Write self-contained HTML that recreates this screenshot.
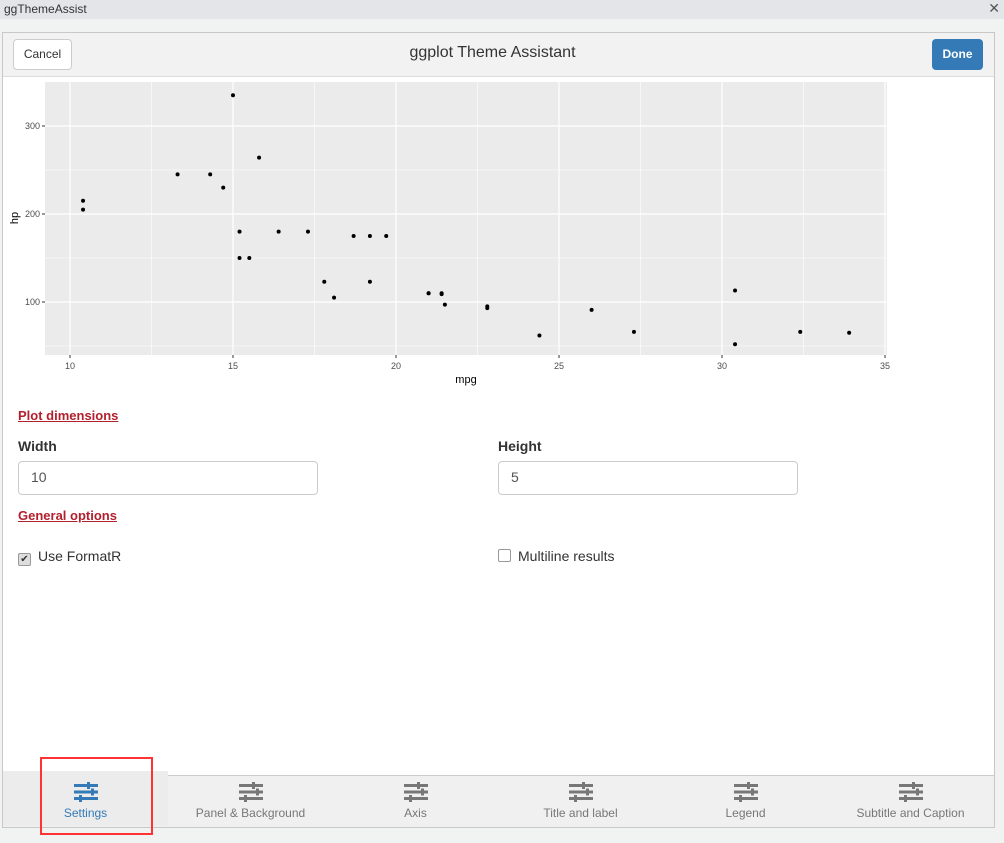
<!DOCTYPE html>
<html><head><meta charset="utf-8"><style>
body{margin:0;width:1004px;height:843px;background:#f1f2f2;font-family:"Liberation Sans",sans-serif;position:relative;overflow:hidden}
.abs{position:absolute}
.lbl{position:absolute;color:#333;font-weight:bold;font-size:14px}
.sec{position:absolute;color:#b2202e;font-weight:bold;font-size:13px;text-decoration:underline;left:18px}
.inp{position:absolute;height:31px;border:1px solid #ccc;border-radius:4px;background:#fff;box-sizing:border-box;font-size:14px;color:#555;padding:7px 12px;width:300px}
.tab{position:absolute;top:776px;width:165px;height:50px;text-align:center;font-size:12px;color:#777}
.tab svg{display:block;margin:6px auto 4px}
</style></head><body>
<div class="abs" style="left:0;top:0;width:1004px;height:19px;background:#e3e5e8;font-size:12px;color:#333"><span style="position:absolute;left:4px;top:2px">ggThemeAssist</span><span style="position:absolute;right:4px;top:0px;font-size:14px;color:#555">✕</span></div>
<div class="abs" style="left:2px;top:32px;width:991px;height:794px;background:#fff;border:1px solid #c8c8c8">
 <div class="abs" style="left:0;top:0;width:991px;height:43px;background:#f2f2f2;border-bottom:1px solid #ddd"></div>
 <div class="abs" style="left:10px;top:6px;width:57px;height:29px;border:1px solid #ccc;border-radius:4px;background:#fff;font-size:12px;color:#333;text-align:center;line-height:29px">Cancel</div>
 <div class="abs" style="left:0;top:11px;width:979px;text-align:center;font-size:16px;color:#333">ggplot Theme Assistant</div>
 <div class="abs" style="left:929px;top:6px;width:51px;height:31px;border-radius:4px;background:#337ab7;font-size:12px;font-weight:bold;color:#fff;text-align:center;line-height:31px">Done</div>
</div>
<svg class="abs" style="left:0;top:0" width="1004" height="400" id="chart"></svg>
<div class="sec" style="top:408px">Plot dimensions</div>
<div class="lbl" style="left:18px;top:438px">Width</div>
<div class="inp" style="left:18px;top:461px;height:34px">10</div>
<div class="lbl" style="left:498px;top:438px">Height</div>
<div class="inp" style="left:498px;top:461px;height:34px">5</div>
<div class="sec" style="top:508px">General options</div>
<div class="abs" style="left:18px;top:548px;font-size:14px;color:#333"><span style="display:inline-block;width:11px;height:11px;border:1px solid #999;border-radius:2px;background:#ddd;font-size:10px;line-height:11px;text-align:center;vertical-align:-1px;margin-right:7px">✔</span>Use FormatR</div>
<div class="abs" style="left:498px;top:548px;font-size:14px;color:#333"><span style="display:inline-block;width:11px;height:11px;border:1px solid #999;border-radius:2px;background:#fff;vertical-align:-1px;margin-right:7px"></span>Multiline results</div>
<div class="abs" style="left:3px;top:775px;width:991px;height:51px;background:#f0f0f0;border-top:1px solid #ccc"></div>
<div class="abs" style="left:3px;top:771px;width:165px;height:55px;background:#ececec"></div>
<div id="tabs"></div>
<div class="abs" style="left:40px;top:757px;width:109px;height:74px;border:2px solid #f33"></div>
<script>
const mpg=[21.0,21.0,22.8,21.4,18.7,18.1,14.3,24.4,22.8,19.2,17.8,16.4,17.3,15.2,10.4,10.4,14.7,32.4,30.4,33.9,21.5,15.5,15.2,13.3,19.2,27.3,26.0,30.4,15.8,19.7,15.0,21.4];
const hp=[110,110,93,110,175,105,245,62,95,123,123,180,180,180,205,215,230,66,52,65,97,150,150,245,175,66,91,113,264,175,335,109];
const xTicks=[10,15,20,25,30,35];
const yTicks=[100,200,300];
const xMinor=[12.5,17.5,22.5,27.5,32.5];
const yMinor=[50,150,250];
const X=v=>70+(v-10)*32.6;
const Y=v=>302-(v-100)*0.88;
const NS='http://www.w3.org/2000/svg';
const svg=document.getElementById('chart');
function mk(t,a,p){const e=document.createElementNS(NS,t);for(const k in a)e.setAttribute(k,a[k]);(p||svg).appendChild(e);return e;}
const panel=mk('rect',{x:45,y:82,width:842,height:273,fill:'#ebebeb'});


xMinor.forEach(v=>mk('line',{x1:X(v),x2:X(v),y1:82,y2:355,stroke:'#fff','stroke-width':0.6}));
yMinor.forEach(v=>mk('line',{x1:45,x2:887,y1:Y(v),y2:Y(v),stroke:'#fff','stroke-width':0.6}));
xTicks.forEach(v=>{mk('line',{x1:X(v),x2:X(v),y1:82,y2:355,stroke:'#fff','stroke-width':1.2});mk('line',{x1:X(v),x2:X(v),y1:355,y2:358,stroke:'#333'});
 const t=mk('text',{x:X(v),y:369,'text-anchor':'middle','font-size':9,fill:'#4d4d4d'});t.textContent=v;
 
 });
yTicks.forEach(v=>{mk('line',{x1:45,x2:887,y1:Y(v),y2:Y(v),stroke:'#fff','stroke-width':1.2});mk('line',{x1:42,x2:45,y1:Y(v),y2:Y(v),stroke:'#333'});
 const t=mk('text',{x:40,y:Y(v)+3,'text-anchor':'end','font-size':9,fill:'#4d4d4d'});t.textContent=v;
 
 });
mpg.forEach((m,i)=>{const c=mk('circle',{cx:X(m),cy:Y(hp[i]),r:2,fill:'#000'});
 
 });
const xt=mk('text',{x:466,y:383,'text-anchor':'middle','font-size':11,fill:'#000'});xt.textContent='mpg';


const yt=mk('text',{x:18,y:218,'text-anchor':'middle','font-size':11,fill:'#000',transform:'rotate(-90 18 218)'});yt.textContent='hp';


const tabs=['Settings','Panel & Background','Axis','Title and label','Legend','Subtitle and Caption'];
const names=['settings-tab','panel-background-tab','axis-tab','title-label-tab','legend-tab','subtitle-caption-tab'];
const host=document.getElementById('tabs');
tabs.forEach((t,i)=>{const d=document.createElement('div');d.className='tab';d.style.left=(3+i*165)+'px';
 const col=i==0?'#337ab7':'#777';d.style.color=col;
 d.innerHTML=`<svg width="26" height="20"><rect x="1" y="2" width="24" height="3" fill="${col}"/><rect x="1" y="8.5" width="24" height="3" fill="${col}"/><rect x="1" y="15" width="24" height="3" fill="${col}"/><rect x="14" y="0" width="3" height="7" fill="${col}"/><rect x="18" y="6.5" width="3" height="7" fill="${col}"/><rect x="6" y="13" width="3" height="7" fill="${col}"/></svg>${t}`;
 
 
 host.appendChild(d);});
</script>
</body></html>
